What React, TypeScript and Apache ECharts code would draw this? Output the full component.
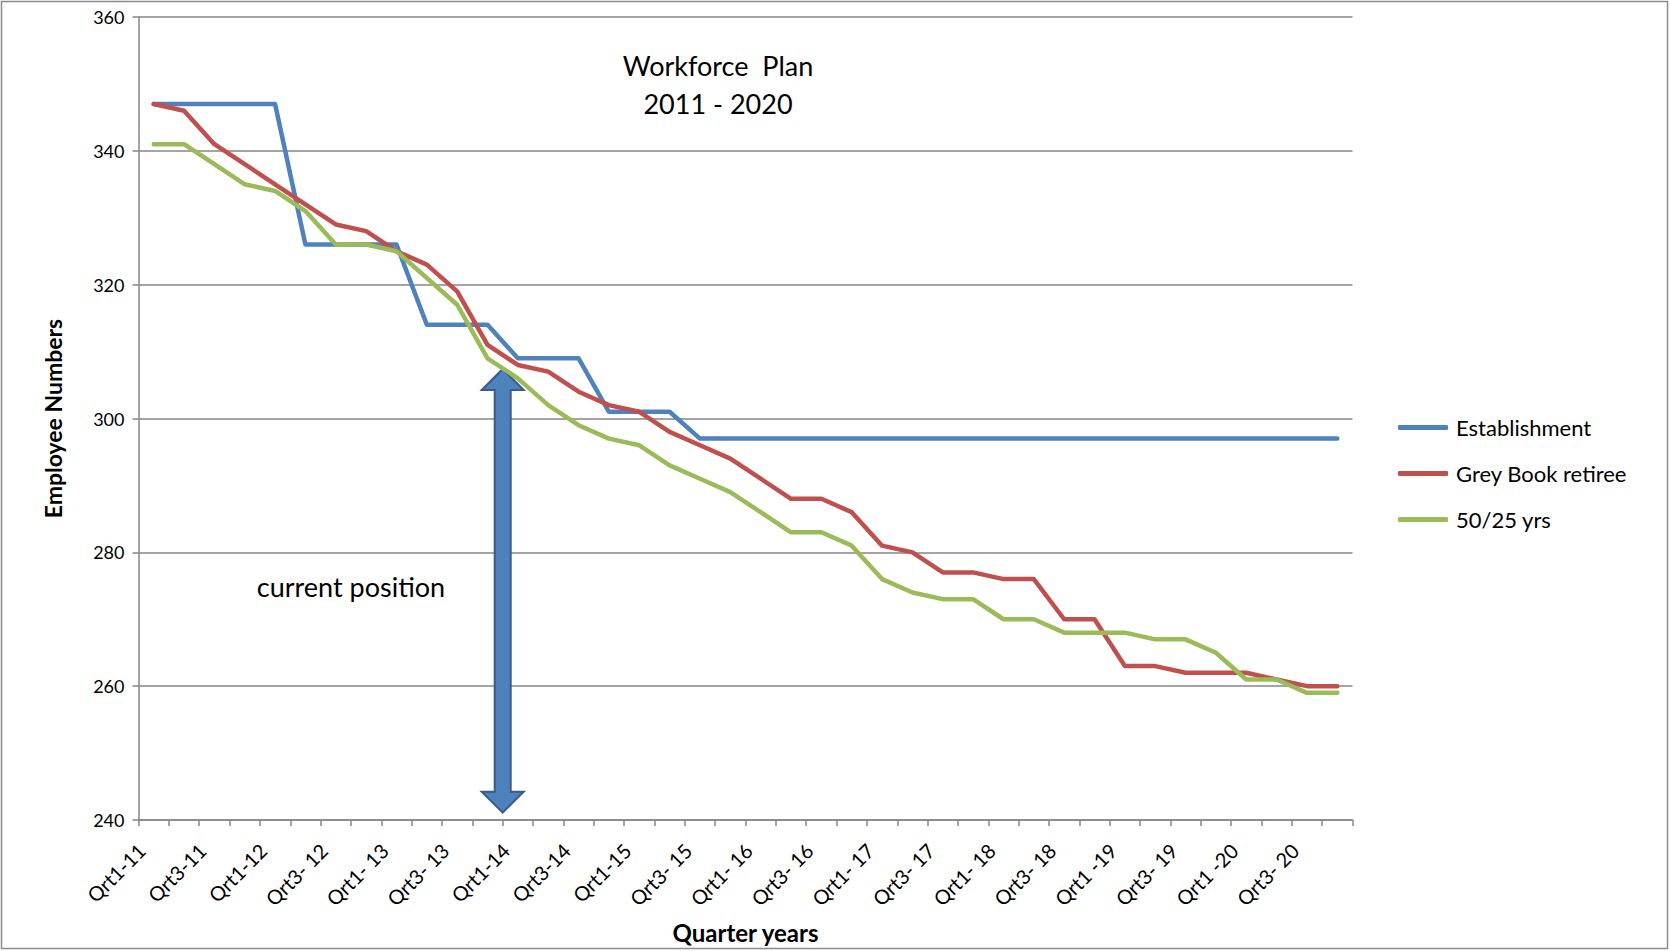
import React, { useEffect, useRef } from "react";
import * as echarts from "echarts";

const CATEGORIES = [
  "Qrt1-11", "Qrt2-11", "Qrt3-11", "Qrt4-11",
  "Qrt1-12", "Qrt2-12", "Qrt3- 12", "Qrt4- 12",
  "Qrt1- 13", "Qrt2- 13", "Qrt3- 13", "Qrt4- 13",
  "Qrt1-14", "Qrt2-14", "Qrt3-14", "Qrt4-14",
  "Qrt1-15", "Qrt2-15", "Qrt3- 15", "Qrt4- 15",
  "Qrt1- 16", "Qrt2- 16", "Qrt3- 16", "Qrt4- 16",
  "Qrt1- 17", "Qrt2- 17", "Qrt3- 17", "Qrt4- 17",
  "Qrt1- 18", "Qrt2- 18", "Qrt3- 18", "Qrt4- 18",
  "Qrt1 -19", "Qrt2 -19", "Qrt3- 19", "Qrt4- 19",
  "Qrt1 -20", "Qrt2 -20", "Qrt3- 20", "Qrt4- 20",
];

const ESTABLISHMENT = [
  347, 347, 347, 347, 347, 326, 326, 326, 326, 314,
  314, 314, 309, 309, 309, 301, 301, 301, 297, 297,
  297, 297, 297, 297, 297, 297, 297, 297, 297, 297,
  297, 297, 297, 297, 297, 297, 297, 297, 297, 297,
];

const GREY_BOOK = [
  347, 346, 341, 338, 335, 332, 329, 328, 325, 323,
  319, 311, 308, 307, 304, 302, 301, 298, 296, 294,
  291, 288, 288, 286, 281, 280, 277, 277, 276, 276,
  270, 270, 263, 263, 262, 262, 262, 261, 260, 260,
];

const FIFTY_25 = [
  341, 341, 338, 335, 334, 331, 326, 326, 325, 321,
  317, 309, 306, 302, 299, 297, 296, 293, 291, 289,
  286, 283, 283, 281, 276, 274, 273, 273, 270, 270,
  268, 268, 268, 267, 267, 265, 261, 261, 259, 259,
];

const SERIES_NAMES = ["Establishment", "Grey Book retiree", "50/25 yrs"];
const Y_MIN = 240;
const Y_MAX = 360;
const Y_STEP = 20;

// annotation: "current position" arrow between Qrt4-13 and Qrt1-14
const ARROW_LEFT_INDEX = 11;
const ARROW_RIGHT_INDEX = 12;
const ARROW_TOP_VALUE = 307.4;
const ARROW_BOTTOM_VALUE = 241.1;

const FONT = "Lato, 'Open Sans', sans-serif";
const BLUE = "#4F81BD";
const RED = "#C0504D";
const GREEN = "#9BBB59";

export default function App() {
  const ref = useRef<HTMLDivElement>(null);

  useEffect(() => {
    if (!ref.current) return;
    const chart = echarts.init(ref.current, null, { renderer: "svg" });

    const lineSeries = (name: string, data: number[], color: string) => ({
      name,
      type: "line",
      data,
      symbol: "none",
      showSymbol: false,
      smooth: false,
      lineStyle: { color, width: 4.5, cap: "round", join: "round" },
      itemStyle: { color },
    });

    const option: any = {
      animation: false,
      backgroundColor: "#ffffff",
      grid: {
        left: 138.5,
        right: 317.5,
        top: 17,
        bottom: 131,
        containLabel: false,
        outerBoundsMode: "none",
      },
      legend: {
        orient: "vertical",
        left: 1398,
        top: 416,
        padding: 0,
        icon: "roundRect",
        itemWidth: 50,
        itemHeight: 5,
        itemGap: 23,
        data: SERIES_NAMES,
        textStyle: { fontFamily: FONT, fontSize: 22, color: "#000", lineHeight: 23, padding: [0, 0, 0, 3] },
      },
      xAxis: {
        type: "category",
        data: CATEGORIES,
        boundaryGap: true,
        name: "Quarter years",
        nameLocation: "middle",
        nameGap: 100,
        nameTextStyle: { fontFamily: FONT, fontSize: 24, fontWeight: "bold", color: "#000" },
        axisLine: { show: true, lineStyle: { color: "#868686", width: 1.5 } },
        axisTick: { show: true, interval: 0, length: 6, inside: false, lineStyle: { color: "#868686", width: 1.5 } },
        axisLabel: {
          interval: 1,
          rotate: 45,
          margin: 15,
          padding: [0, 17, 0, 0],
          fontFamily: FONT,
          fontSize: 20,
          color: "#000",
        },
        splitLine: { show: false },
      },
      yAxis: {
        type: "value",
        min: Y_MIN,
        max: Y_MAX,
        interval: Y_STEP,
        name: "Employee Numbers",
        nameLocation: "middle",
        nameGap: 74,
        nameTextStyle: { fontFamily: FONT, fontSize: 23, fontWeight: "bold", color: "#000" },
        axisLine: { show: true, lineStyle: { color: "#868686", width: 1.5 } },
        axisTick: { show: true, length: 6, lineStyle: { color: "#868686", width: 1.5 } },
        axisLabel: { fontFamily: FONT, fontSize: 18, color: "#000", margin: 14 },
        splitLine: { show: true, lineStyle: { color: "#868686", width: 1.5 } },
      },
      series: [
        lineSeries(SERIES_NAMES[0], ESTABLISHMENT, BLUE),
        lineSeries(SERIES_NAMES[1], GREY_BOOK, RED),
        lineSeries(SERIES_NAMES[2], FIFTY_25, GREEN),
      ],
    };

    chart.setOption(option);

    const xl = chart.convertToPixel({ xAxisIndex: 0 }, ARROW_LEFT_INDEX) as number;
    const xr = chart.convertToPixel({ xAxisIndex: 0 }, ARROW_RIGHT_INDEX) as number;
    const ax = (xl + xr) / 2;
    const yT = chart.convertToPixel({ yAxisIndex: 0 }, ARROW_TOP_VALUE) as number;
    const yB = chart.convertToPixel({ yAxisIndex: 0 }, ARROW_BOTTOM_VALUE) as number;
    const hw = 21;
    const sw = 8;
    const hh = 21;
    const arrowPoints = [
      [ax, yT], [ax + hw, yT + hh], [ax + sw, yT + hh], [ax + sw, yB - hh],
      [ax + hw, yB - hh], [ax, yB], [ax - hw, yB - hh], [ax - sw, yB - hh],
      [ax - sw, yT + hh], [ax - hw, yT + hh],
    ];

    const textStyle = (text: string, size: number) => ({
      text,
      fontFamily: FONT,
      fontSize: size,
      fill: "#000",
      textAlign: "center",
      textVerticalAlign: "middle",
    });

    chart.setOption({
      graphic: [
        {
          type: "rect",
          id: "frame",
          shape: { x: 1.5, y: 1.5, width: 1666, height: 947 },
          style: { fill: "none", stroke: "#8c8c8c", lineWidth: 1.5 },
          silent: true,
          z: -1,
        },
        { type: "text", id: "title1", x: 718, y: 65, style: textStyle("Workforce  Plan", 27) },
        { type: "text", id: "title2", x: 718, y: 103, style: textStyle("2011 - 2020", 27) },
        { type: "text", id: "current", x: 351, y: 586, style: textStyle("current position", 27) },
        {
          type: "polygon",
          id: "arrow",
          shape: { points: arrowPoints },
          style: { fill: BLUE, stroke: "#385D8A", lineWidth: 2 },
          z: 1,
        },
      ],
    });

    return () => {
      chart.dispose();
    };
  }, []);

  return (
    <div
      ref={ref}
      style={{ position: "fixed", left: 0, top: 0, width: 1670, height: 951, background: "#fff" }}
    />
  );
}
